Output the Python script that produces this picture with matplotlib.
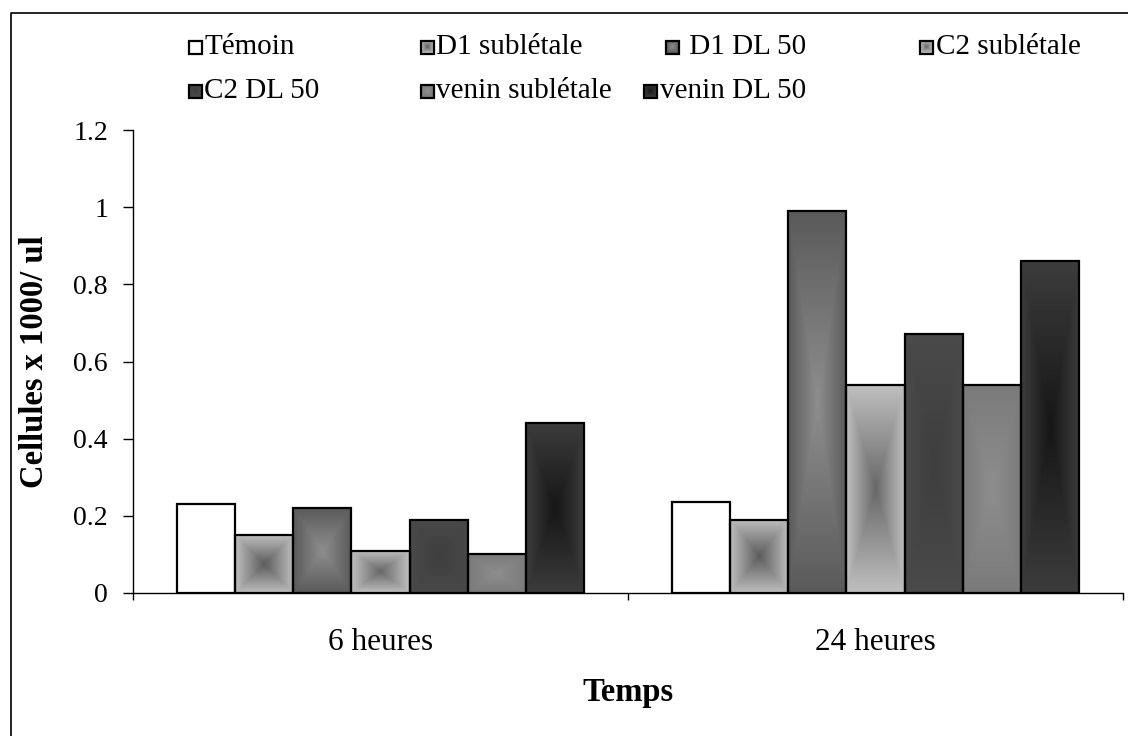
import numpy as np
import matplotlib
matplotlib.use("Agg")
import matplotlib.pyplot as plt
from matplotlib.patches import Rectangle
from matplotlib.lines import Line2D
from matplotlib.colors import to_rgb

# ---- data -------------------------------------------------------------
categories = ["6 heures", "24 heures"]
series_names = ["Témoin", "D1 sublétale", " D1 DL 50", "C2 sublétale",
                "C2 DL 50", "venin sublétale", "venin DL 50"]
temoin = [0.23, 0.235]
d1_sublethal = [0.15, 0.19]
d1_dl50 = [0.22, 0.99]
c2_sublethal = [0.11, 0.54]
c2_dl50 = [0.19, 0.67]
venin_sublethal = [0.10, 0.54]
venin_dl50 = [0.44, 0.86]
y_ticks = [0, 0.2, 0.4, 0.6, 0.8, 1.0, 1.2]
y_tick_labels = ["0", "0.2", "0.4", "0.6", "0.8", "1", "1.2"]

series_values = [temoin, d1_sublethal, d1_dl50, c2_sublethal,
                 c2_dl50, venin_sublethal, venin_dl50]

# (centre, edge) greys of the "from centre" gradient fills
fills = [("#ffffff", "#ffffff"), ("#5c5c5c", "#bebebe"),
         ("#8e8e8e", "#5a5a5a"), ("#686868", "#c0c0c0"),
         ("#3e3e3e", "#4a4a4a"), ("#8e8e8e", "#7a7a7a"),
         ("#161616", "#3c3c3c")]

SERIF = "Liberation Serif"
W, H = 1128, 736


def gradient(center, edge, nx=60, ny=200):
    u = np.abs(np.linspace(-1, 1, nx))
    v = np.abs(np.linspace(-1, 1, ny))
    t = np.maximum(u[None, :], v[:, None])
    c = np.array(to_rgb(center))
    e = np.array(to_rgb(edge))
    return c + (e - c) * t[..., None]


fig = plt.figure(figsize=(W / 100, H / 100), dpi=100)
ax = fig.add_axes([133 / W, 1 - 593 / H, 990 / W, (593 - 130) / H])

x = np.arange(len(categories))
bw = 0.1175
n = len(series_values)
for i, (vals, (cc, ec)) in enumerate(zip(series_values, fills)):
    xs = x + (i - (n - 1) / 2) * bw
    bars = ax.bar(xs, vals, bw, facecolor="none", edgecolor="black",
                  linewidth=1.6, zorder=3)
    for r in bars:
        x0, h = r.get_x(), r.get_height()
        ax.imshow(gradient(cc, ec), extent=(x0, x0 + bw, 0, h),
                  aspect="auto", interpolation="bilinear", zorder=2)

ax.set_xlim(-0.5, 1.5)
ax.set_ylim(0, 1.2)
ax.set_yticks(y_ticks)
ax.set_yticklabels(y_tick_labels, fontfamily=SERIF, fontsize=20)
ax.set_xticks(x)
ax.set_xticklabels(categories, fontfamily=SERIF, fontsize=22.5)
ax.set_xticks([-0.5, 0.5, 1.5], minor=True)
ax.tick_params(axis="x", which="major", length=0, pad=25)
ax.tick_params(axis="x", which="minor", length=5, width=1, direction="out")
ax.tick_params(axis="y", length=7, width=1, direction="out", pad=11)
for s in ("top", "right"):
    ax.spines[s].set_visible(False)
for s in ("left", "bottom"):
    ax.spines[s].set_linewidth(1.0)

# axis titles
fig.text(35 / W, 1 - 362 / H, "Cellules x 1000/ ul", fontfamily=SERIF,
         fontsize=23.5, fontweight="bold", rotation=90,
         ha="center", va="center")
fig.text(628 / W, 1 - 692 / H, "Temps", fontfamily=SERIF, fontsize=23.5,
         fontweight="bold", ha="center", va="center")

# ---- overlay in pixel coordinates: legend and outer frame -------------
lax = fig.add_axes([0, 0, 1, 1], zorder=5)
lax.axis("off")

leg_pos = [(195, 47), (427, 47), (672, 47), (926, 47),
           (195, 91), (427, 91), (650, 91)]
sq = 6.5
for name, (cc, ec), (lx, ly) in zip(series_names, fills, leg_pos):
    lax.imshow(gradient(cc, ec, 20, 20),
               extent=(lx - sq, lx + sq, ly + sq, ly - sq),
               interpolation="bilinear", zorder=2)
    lax.add_patch(Rectangle((lx - sq, ly - sq), 2 * sq, 2 * sq,
                            facecolor="none", edgecolor="black",
                            linewidth=1.6, zorder=3))
    lax.text(lx + sq + 3, ly, name, fontfamily=SERIF, fontsize=21,
             va="center", ha="left")

lax.add_line(Line2D([11, 11, W], [H, 13, 13], color="black", linewidth=1.2))
lax.set_xlim(0, W)
lax.set_ylim(H, 0)

fig.savefig("out.png", dpi=100)
